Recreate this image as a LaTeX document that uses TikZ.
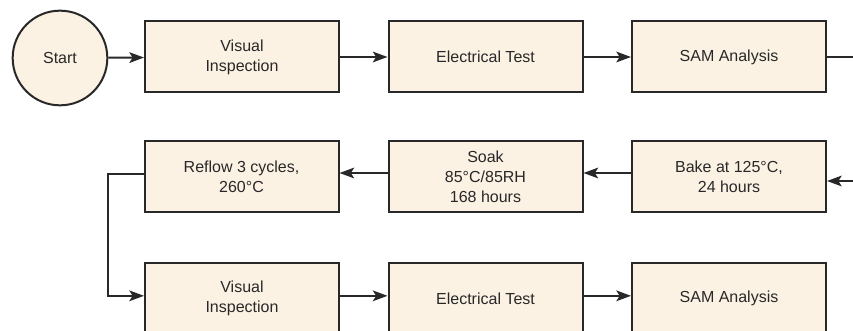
\documentclass[tikz,border=0pt]{standalone}
\usepackage{fontspec}
\setmainfont{Liberation Sans}
\usepackage{tikz}
\usetikzlibrary{arrows.meta}
\definecolor{boxfill}{RGB}{252,242,228}
\definecolor{boxline}{RGB}{40,40,40}

\begin{document}
\begin{tikzpicture}
  [x=0.75pt,y=-0.75pt,line width=1.5pt,draw=boxline,
   every node/.style={text=boxline,font=\fontsize{12}{15}\selectfont,align=center},
   box/.style={rectangle,draw=boxline,fill=boxfill,minimum width=145.5pt,minimum height=53.25pt,inner sep=2pt},
   startnode/.style={circle,draw=boxline,fill=boxfill,minimum size=71pt,inner sep=0pt},
   arr/.style={-{Stealth[length=11pt,width=8pt,inset=2.5pt]},draw=boxline}] % box is the layout of all the steps

  \useasboundingbox (0,0) rectangle (853,331);

  \node[startnode] (st) at (60,58) {Start};
  \node[box] (vi1) at (242,57) {Visual\\Inspection}; % first row, left to right
  \node[box] (et1) at (485.5,57) {Electrical Test};
  \node[box] (sa1) at (729,57) {SAM Analysis};

  \node[box] (bk) at (729,177) {Bake at 125°C,\\24 hours}; % second row, right to left
  \node[box] (sk) at (485.5,177) {Soak\\85°C/85RH\\168 hours};
  \node[box] (rf) at (241.5,177) {Reflow 3 cycles,\\260°C};

  \node[box] (vi2) at (242,298.5) {Visual\\Inspection}; % third row
  \node[box] (et2) at (485.5,298.5) {Electrical Test};
  \node[box] (sa2) at (729,298.5) {SAM Analysis};

  \coordinate (out1) at (853,57);
  \coordinate (in2) at (853,181);

  \draw[arr] (st) -- (vi1); % these are the arrows between the steps
  \draw[arr] (vi1) -- (et1);
  \draw[arr] (et1) -- (sa1);
  \draw (sa1) -- (out1);
  \draw[arr] (in2) -- (bk.east |- in2);
  \draw[arr] ([yshift=3pt]bk.west) -- ([yshift=3pt]sk.east);
  \draw[arr] ([yshift=3pt]sk.west) -- ([yshift=3pt]rf.east);
  \draw[arr] ([yshift=2pt]rf.west) -- ++(-36,0) |- ([yshift=2pt]vi2.west);
  \draw[arr] ([yshift=2pt]vi2.east) -- ([yshift=2pt]et2.west);
  \draw[arr] ([yshift=2pt]et2.east) -- ([yshift=2pt]sa2.west);

\end{tikzpicture}
\end{document}
